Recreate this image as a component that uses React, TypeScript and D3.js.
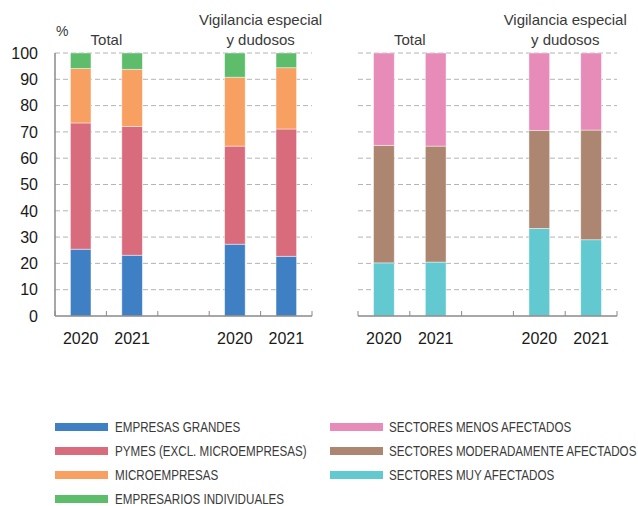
import React, { useEffect, useRef } from "react";
import * as d3 from "d3";

// categories on the x axis (the empty slot separates the two groups)
const barKeys = ["t2020", "t2021", "gap", "v2020", "v2021"];
const barLabels = ["2020", "2021", "", "2020", "2021"];
const groupTitles = [["Total"], ["Vigilancia especial", "y dudosos"]];
const yTicks = [0, 10, 20, 30, 40, 50, 60, 70, 80, 90, 100];

// left panel: by firm size (%)
const empresasGrandes = [25.4, 23.1, 27.3, 22.7];
const pymes = [48.0, 49.0, 37.3, 48.4];
const microempresas = [20.7, 21.7, 26.2, 23.3];
const empresariosIndividuales = [5.9, 6.2, 9.2, 5.6];

// right panel: by sector (%)
const muyAfectados = [20.2, 20.5, 33.3, 29.0];
const moderadamente = [44.7, 44.1, 37.2, 41.7];
const menosAfectados = [35.1, 35.4, 29.5, 29.3];

const leftSeries = [
  { name: "EMPRESAS GRANDES", color: "#3f80c4", values: empresasGrandes },
  { name: "PYMES (EXCL. MICROEMPRESAS)", color: "#d96c7c", values: pymes },
  { name: "MICROEMPRESAS", color: "#f7a062", values: microempresas },
  { name: "EMPRESARIOS INDIVIDUALES", color: "#5dbd6b", values: empresariosIndividuales },
];
const rightSeries = [
  { name: "SECTORES MENOS AFECTADOS", color: "#e78bb8", values: menosAfectados },
  { name: "SECTORES MODERADAMENTE AFECTADOS", color: "#ac8670", values: moderadamente },
  { name: "SECTORES MUY AFECTADOS", color: "#63c9d0", values: muyAfectados },
];
// stacking order bottom->top for the right panel
const rightStackOrder = [2, 1, 0];

const FONT = "'Liberation Sans', Arial, Helvetica, sans-serif";

const App = () => {
  const ref = useRef<SVGSVGElement>(null);

  useEffect(() => {
    const svg = d3.select(ref.current);
    svg.selectAll("*").remove();

    const y = d3.scaleLinear().domain([0, 100]).range([316, 53]);
    const barIdx = [0, 1, 3, 4];

    const drawPanel = (
      x0: number,
      x1: number,
      series: { name: string; color: string; values: number[] }[],
      withYAxis: boolean
    ) => {
      const x = d3.scaleBand<string>().domain(barKeys).range([x0, x1]).padding(0);
      const g = svg.append("g");

      // dashed gridlines
      g.selectAll("line.grid")
        .data(yTicks.filter((t) => t > 0))
        .join("line")
        .attr("x1", x0)
        .attr("x2", x1)
        .attr("y1", (d) => y(d))
        .attr("y2", (d) => y(d))
        .attr("stroke", "#b4b4b4")
        .attr("stroke-width", 1)
        .attr("stroke-dasharray", "5,3");

      // stacked bars
      const rows = barIdx.map((bi, i) => {
        const row: any = { key: barKeys[bi] };
        series.forEach((s) => (row[s.name] = s.values[i]));
        return row;
      });
      const stack = d3.stack<any>().keys(series.map((s) => s.name));
      const layers = stack(rows);
      const bw = x.bandwidth() * 0.4;
      layers.forEach((layer, li) => {
        g.append("g")
          .attr("fill", series[li].color)
          .selectAll("rect")
          .data(layer)
          .join("rect")
          .attr("x", (d: any) => (x(d.data.key) as number) + (x.bandwidth() - bw) / 2)
          .attr("y", (d) => y(d[1]))
          .attr("width", bw)
          .attr("height", (d) => y(d[0]) - y(d[1]))
          .attr("stroke", "#ffffff")
          .attr("stroke-opacity", 0.55)
          .attr("stroke-width", 0.8);
      });

      // bottom axis with upward ticks at band edges
      const axis = g.append("g").attr("stroke", "#8a8a8a");
      axis.append("line")
        .attr("x1", x0).attr("x2", x1)
        .attr("y1", y(0)).attr("y2", y(0))
        .attr("stroke-width", 1.5);
      const edges = barKeys.map((k) => x(k) as number).concat([x1]);
      axis.selectAll("line.tick")
        .data(edges)
        .join("line")
        .attr("x1", (d) => d).attr("x2", (d) => d)
        .attr("y1", y(0) - 5).attr("y2", y(0))
        .attr("stroke-width", 1);

      g.selectAll("text.xl")
        .data(barKeys)
        .join("text")
        .attr("x", (d) => (x(d) as number) + x.bandwidth() / 2)
        .attr("y", 344)
        .attr("text-anchor", "middle")
        .attr("font-family", FONT)
        .attr("font-size", 16)
        .attr("fill", "#1a1a1a")
        .text((d, i) => barLabels[i]);

      // group titles
      const groups = [
        [barKeys[0], barKeys[1]],
        [barKeys[3], barKeys[4]],
      ];
      groups.forEach((pair, gi) => {
        const cx =
          ((x(pair[0]) as number) + (x(pair[1]) as number) + x.bandwidth()) / 2;
        const lines = groupTitles[gi];
        lines.forEach((ln, li) => {
          g.append("text")
            .attr("x", cx)
            .attr("y", 45 - (lines.length - 1 - li) * 20)
            .attr("text-anchor", "middle")
            .attr("font-family", FONT)
            .attr("font-size", 15)
            .attr("fill", "#3a3a3a")
            .text(ln);
        });
      });

      if (withYAxis) {
        g.append("line")
          .attr("x1", x0).attr("x2", x0)
          .attr("y1", y(100)).attr("y2", y(0))
          .attr("stroke", "#8a8a8a")
          .attr("stroke-width", 1.5);
        g.selectAll("text.yl")
          .data(yTicks)
          .join("text")
          .attr("x", 38)
          .attr("y", (d) => y(d))
          .attr("dy", "0.36em")
          .attr("text-anchor", "end")
          .attr("font-family", FONT)
          .attr("font-size", 16)
          .attr("fill", "#1a1a1a")
          .text((d) => d);
        g.append("text")
          .attr("x", 56)
          .attr("y", 36)
          .attr("font-family", FONT)
          .attr("font-size", 14)
          .attr("fill", "#3a3a3a")
          .text("%");
      }
    };

    drawPanel(55, 312, leftSeries, true);
    drawPanel(358, 617, rightStackOrder.map((i) => rightSeries[i]), false);

    // legend
    const legendCols = [
      { sx: 55, tx: 115, items: leftSeries },
      { sx: 330, tx: 389, items: rightSeries },
    ];
    const rowY = d3.scaleLinear().domain([0, 1]).range([427, 451]);
    legendCols.forEach((col) => {
      const lg = svg.append("g");
      lg.selectAll("rect")
        .data(col.items)
        .join("rect")
        .attr("x", col.sx)
        .attr("y", (d, i) => rowY(i) - 4)
        .attr("width", 53)
        .attr("height", 8)
        .attr("fill", (d) => d.color);
      lg.selectAll("text")
        .data(col.items)
        .join("text")
        .attr("transform", (d, i) => `translate(${col.tx},${rowY(i) + 5}) scale(0.83,1)`)
        .attr("font-family", FONT)
        .attr("font-size", 14)
        .attr("fill", "#3a3a3a")
        .text((d) => d.name);
    });
  }, []);

  return (
    <div>
      <svg
        ref={ref}
        width={638}
        height={506}
        style={{ position: "absolute", left: 0, top: 0, background: "#fff" }}
      />
    </div>
  );
};

export default App;
